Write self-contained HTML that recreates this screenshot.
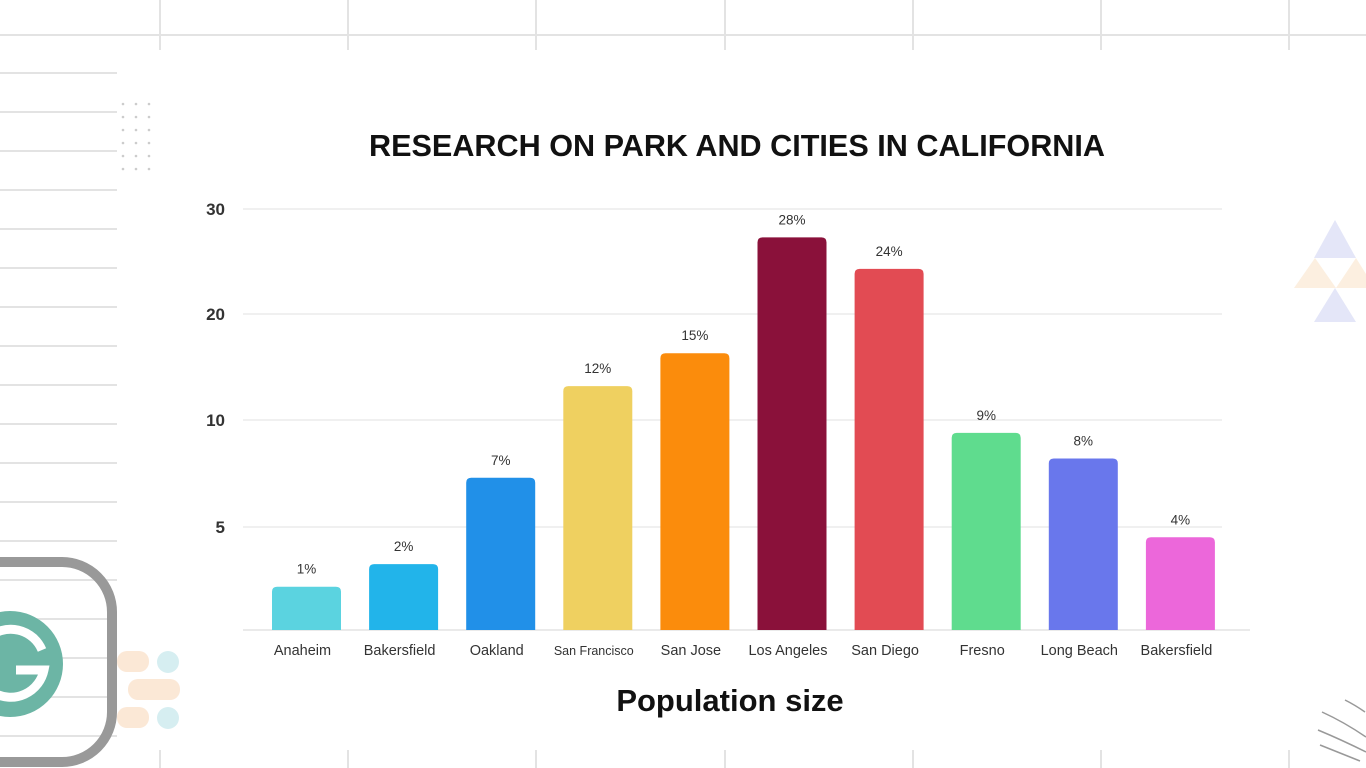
<!DOCTYPE html>
<html><head><meta charset="utf-8">
<style>
html,body{margin:0;padding:0;background:#fff;width:1366px;height:768px;overflow:hidden}
svg{display:block;font-family:"Liberation Sans",sans-serif}
</style></head>
<body>
<svg id="c" width="1366" height="768" viewBox="0 0 1366 768">
<g id="bg">
<line x1="0" y1="35" x2="1366" y2="35" stroke="#e3e3e3" stroke-width="2"/>
</g>
<text x="737" y="156" text-anchor="middle" font-size="30.5" font-weight="bold" fill="#111" textLength="736" lengthAdjust="spacingAndGlyphs">RESEARCH ON PARK AND CITIES IN CALIFORNIA</text>
<g id="grid"></g>
<g id="yaxis"></g>
<g id="bars"></g>
<g id="xaxis"></g>
<text x="730" y="711" text-anchor="middle" font-size="31" font-weight="bold" fill="#111">Population size</text>
<g>
<rect x="-60" y="562" width="172" height="200" rx="50" fill="none" stroke="#999" stroke-width="10"/>
<circle cx="10" cy="664" r="53" fill="#6cb5a5"/>
<path d="M42 650 A34 34 0 1 0 44 670 L16 670" fill="none" stroke="#fff" stroke-width="9"/>
<rect x="117" y="651" width="32" height="21" rx="10" fill="#fbe8d6"/>
<rect x="128" y="679" width="52" height="21" rx="10" fill="#fbe8d6"/>
<rect x="117" y="707" width="32" height="21" rx="10" fill="#fbe8d6"/>
<circle cx="168" cy="662" r="11" fill="#d6eef1"/>
<circle cx="168" cy="718" r="11" fill="#d6eef1"/>
</g>
<g>
<polygon points="1335,220 1356,258 1314,258" fill="#e4e6f8"/>
<polygon points="1315,258 1336,288 1294,288" fill="#fcefe0"/>
<polygon points="1356,258 1366,274 1366,288 1336,288" fill="#fcefe0"/>
<polygon points="1335,288 1356,322 1314,322" fill="#e4e6f8"/>
</g>
<g fill="none" stroke="#999" stroke-width="1.5">
<path d="M1345 700 q10 5 20 12"/><path d="M1322 712 q22 10 44 25"/><path d="M1318 730 q24 10 48 22"/><path d="M1320 745 q20 8 40 16"/>
</g>
</svg>
<script>
const categories=["Anaheim","Bakersfield","Oakland","San Francisco","San Jose","Los Angeles","San Diego","Fresno","Long Beach","Bakersfield"];
const values=[2.1,3.2,7.3,13.2,16.3,27.3,24.3,9.4,8.2,4.5];
const valueLabels=["1%","2%","7%","12%","15%","28%","24%","9%","8%","4%"];
const colors=["#5bd3e0","#22b4ea","#2190e8","#efd060","#fb8c0c","#8a113a","#e24b53","#5fdc8e","#6977ec","#ec67da"];
const yTicks=[5,10,20,30];
const tickLabels=["5","10","20","30"];
const NS="http://www.w3.org/2000/svg";
const yStops=[0,5,10,20,30], yPix=[630,527,420,314,209];
function y(v){for(let i=1;i<yStops.length;i++){if(v<=yStops[i]||i===yStops.length-1){const a=yStops[i-1],b=yStops[i];return yPix[i-1]+(v-a)/(b-a)*(yPix[i]-yPix[i-1]);}}}
function x(i){return 272+i*97.1;}
function mk(t,a,p){const e=document.createElementNS(NS,t);for(const k in a)e.setAttribute(k,a[k]);p.appendChild(e);return e;}
const bg=document.getElementById('bg');
[160,348,536,725,913,1101,1289].forEach(px=>{
 mk('line',{x1:px,y1:0,x2:px,y2:50,stroke:'#e3e3e3','stroke-width':2},bg);
 mk('line',{x1:px,y1:750,x2:px,y2:768,stroke:'#e3e3e3','stroke-width':2},bg);
});
for(let yy=73;yy<768;yy+=39){mk('line',{x1:0,y1:yy,x2:117,y2:yy,stroke:'#e3e3e3','stroke-width':2},bg);}
for(let r=0;r<6;r++)for(let c=0;c<3;c++)mk('circle',{cx:123+c*13,cy:104+r*13,r:1.3,fill:'#ccc'},bg);
const grid=document.getElementById('grid'),ya=document.getElementById('yaxis');
yTicks.forEach((t,i)=>{
 const l=mk('line',{x1:243,y1:y(t),x2:1222,y2:y(t),stroke:'#ececec','stroke-width':1.5},grid);
 
 
 const tx=mk('text',{x:225,y:y(t)+6,'text-anchor':'end','font-size':17,'font-weight':'bold',fill:'#333'},ya);
 tx.textContent=tickLabels[i];
 
 
});
mk('line',{x1:243,y1:630,x2:1250,y2:630,stroke:'#e3e3e3','stroke-width':1.5},grid);
const bars=document.getElementById('bars'),xa=document.getElementById('xaxis');
categories.forEach((c,i)=>{
 const top=y(values[i]),w=69,bx=x(i);
 const p=mk('path',{d:`M${bx} 630 L${bx} ${top+5} Q${bx} ${top} ${bx+5} ${top} L${bx+w-5} ${top} Q${bx+w} ${top} ${bx+w} ${top+5} L${bx+w} 630 Z`,fill:colors[i]},bars);
 
 
 const vl=mk('text',{x:bx+w/2,y:top-13,'text-anchor':'middle','font-size':13.5,fill:'#333'},bars);
 vl.textContent=valueLabels[i];
 
 
 const cl=mk('text',{x:bx+w/2-4,y:655,'text-anchor':'middle','font-size':c.length>12?12.5:14.5,fill:'#333'},xa);
 cl.textContent=c;
 
 
});
</script>
</body></html>
